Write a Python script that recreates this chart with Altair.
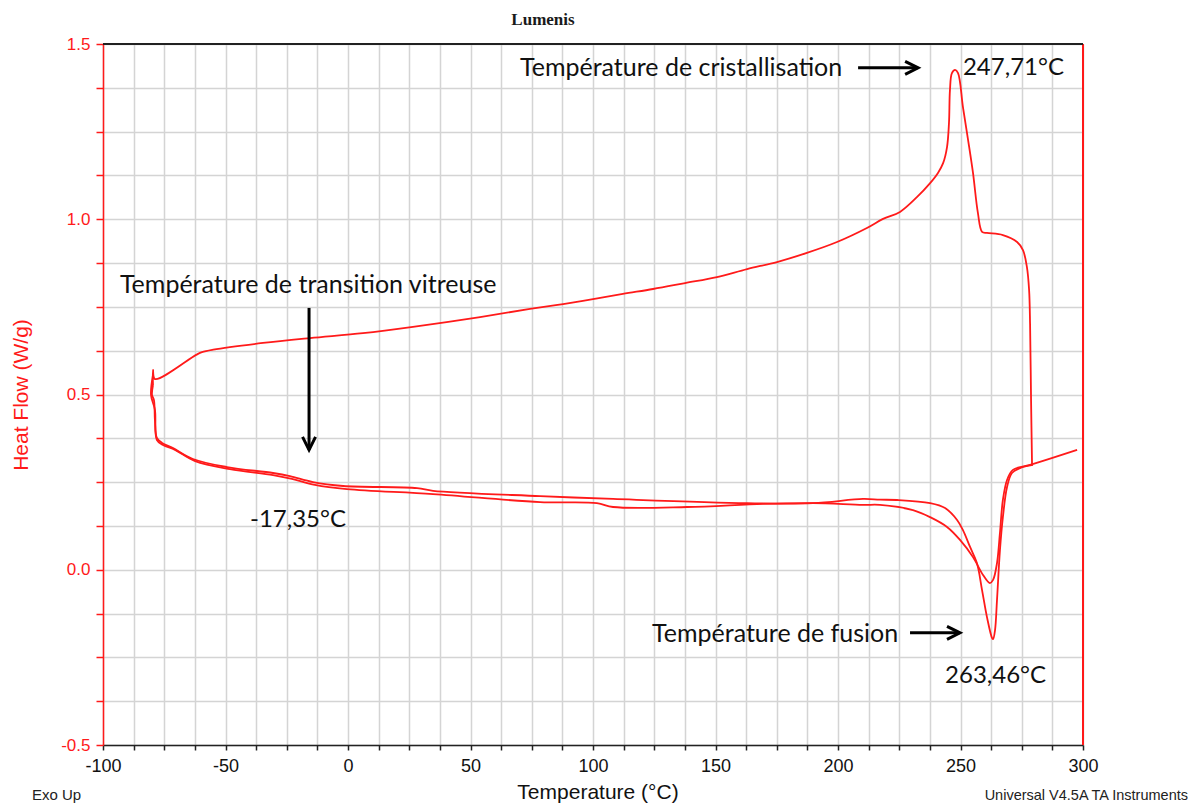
import altair as alt
import pandas as pd

# ---- data ----
# cooling run (from 280 °C down to -80 °C)
cool_T = [279.2, 278.8, 278.4, 278.0, 277.1, 275.5, 273.1, 267.3, 260.8, 258.8, 257.1, 255.1,
          253.1, 251.0, 249.0, 247.8, 246.5, 245.7, 245.3, 244.5, 242.9, 240.8, 237.6, 232.2,
          225.3, 218.4, 211.8, 199.6, 187.3, 175.1, 162.9, 150.6, 137.6, 124.5, 112.2, 100.0,
          87.8, 74.3, 53.9, 26.5, 6.1, -15.5, -34.7, -55.0, -59.6, -62.0, -78.8, -79.6, -79.6]
cool_H = [0.299, 0.484, 0.700, 0.798, 0.864, 0.912, 0.935, 0.955, 0.961, 0.964, 1.018, 1.132,
          1.226, 1.320, 1.417, 1.426, 1.417, 1.369, 1.275, 1.206, 1.160, 1.132, 1.103, 1.063,
          1.021, 1.001, 0.975, 0.935, 0.904, 0.878, 0.858, 0.835, 0.818, 0.801, 0.787, 0.772,
          0.758, 0.744, 0.721, 0.693, 0.675, 0.661, 0.647, 0.628, 0.621, 0.613, 0.544, 0.570, 0.527]

# first heating (deep melting peak)
heat1_T = [-79.6, -80.0, -79.2, -78.8, -78.0, -75.9, -71.4, -63.3, -49.4, -30.6, -23.7, -14.3,
           -2.0, 28.2, 34.7, 78.4, 108.2, 162.9, 189.8, 210.2, 217.1, 224.1, 237.6, 243.7,
           248.6, 251.0, 253.9, 256.7, 258.8, 260.8, 262.9, 263.3, 264.1, 264.9, 266.1, 267.3,
           269.0, 271.0, 274.3, 279.6]
heat1_H = [0.527, 0.499, 0.484, 0.427, 0.376, 0.362, 0.347, 0.316, 0.293, 0.276, 0.267, 0.250,
           0.239, 0.233, 0.225, 0.210, 0.202, 0.190, 0.190, 0.202, 0.200, 0.199, 0.190, 0.176,
           0.142, 0.113, 0.065, 0.019, -0.058, -0.135, -0.195, -0.198, -0.172, -0.086, 0.056, 0.150,
           0.236, 0.276, 0.290, 0.299]

# second heating (shallow melting peak)
heat2_T = [-79.6, -80.4, -78.8, -78.0, -75.5, -70.6, -62.4, -48.2, -30.6, -22.9, -13.5, -0.4,
           34.7, 78.4, 101.6, 108.2, 138.4, 169.4, 189.8, 210.2, 217.1, 230.6, 237.6, 244.5,
           249.8, 255.1, 259.2, 262.0, 263.3, 264.9, 266.1, 267.3, 269.0, 271.4, 278.4, 297.6]
heat2_H = [0.556, 0.499, 0.456, 0.370, 0.356, 0.342, 0.310, 0.287, 0.270, 0.259, 0.242, 0.230,
           0.216, 0.193, 0.190, 0.179, 0.179, 0.188, 0.190, 0.185, 0.185, 0.170, 0.150, 0.122,
           0.085, 0.036, -0.015, -0.038, -0.029, 0.019, 0.105, 0.199, 0.256, 0.285, 0.299, 0.342]

# annotation texts (data coordinates, left aligned)
ann_text = ["Température de cristallisation", "247,71°C", "Température de transition vitreuse",
            "-17,35°C", "Température de fusion", "263,46°C"]
ann_T = [70.2, 251.0, -93.1, -40.0, 124.1, 243.7]
ann_H = [1.432, 1.432, 0.812, 0.142, -0.183, -0.303]
ann_size = [25, 24, 25, 24, 25, 24]

# arrows (tail -> head)
arr_T1 = [208.2, -15.9, 229.4]
arr_H1 = [1.432, 0.747, -0.180]
arr_T2 = [232.7, -15.9, 249.8]
arr_H2 = [1.432, 0.342, -0.180]
arr_angle = [0, 90, 0]

x_ticks = [-100 + 12.5 * k for k in range(33)]
y_ticks = [-0.5 + 0.125 * k for k in range(17)]

# ---- tables ----
rows = []
for name, Ts, Hs in [("heat1", heat1_T, heat1_H), ("cool", cool_T, cool_H), ("heat2", heat2_T, heat2_H)]:
    for i, (t, h) in enumerate(zip(Ts, Hs)):
        rows.append({"series": name, "i": i, "T": t, "H": h})
df = pd.DataFrame(rows)
ann = pd.DataFrame({"text": ann_text, "T": ann_T, "H": ann_H, "size": ann_size})
arr = pd.DataFrame({"T1": arr_T1, "H1": arr_H1, "T2": arr_T2, "H2": arr_H2, "ang": arr_angle})

W, Hh = 980, 701
RED = "#ff1a1a"
xs = alt.Scale(domain=[-100, 300], nice=False, zero=False)
ys = alt.Scale(domain=[-0.5, 1.5], nice=False, zero=False)

x_axis = alt.Axis(values=x_ticks, tickCount=60,
                  labelExpr="datum.value % 50 == 0 ? '' + datum.value : ''",
                  title=None, grid=True, gridColor="#d4d4d4", gridWidth=1.5,
                  domainColor="#222222", domainWidth=1.5, tickColor="#222222", tickSize=5,
                  tickWidth=1.5, labelFont="Liberation Sans", labelFontSize=18, labelColor="#111111",
                  labelPadding=7, labelFlush=False, labelOverlap=False)
y_axis = alt.Axis(values=y_ticks, tickCount=40,
                  labelExpr="abs(datum.value*2 - round(datum.value*2)) < 0.000001 ? (datum.value < 0 ? '-' : '') + format(abs(datum.value), '.1f') : ''",
                  title=None, grid=True, gridColor="#d4d4d4", gridWidth=1.5,
                  domainColor=RED, domainWidth=1.5, tickColor=RED, tickSize=7, tickWidth=1.5,
                  labelFont="Liberation Sans", labelFontSize=17, labelColor=RED,
                  labelPadding=6, labelFlush=False, labelOverlap=False)

lines = alt.Chart(df).mark_line(color=RED, strokeWidth=1.8, interpolate="catmull-rom").encode(
    x=alt.X("T:Q", scale=xs, axis=x_axis),
    y=alt.Y("H:Q", scale=ys, axis=y_axis),
    detail="series:N",
    order="i:Q",
)

right_border = alt.Chart(df).mark_rule(color=RED, strokeWidth=1.5).encode(
    x=alt.value(W), y=alt.value(0), y2=alt.value(Hh)
)
top_border = alt.Chart(df).mark_rule(color="#222222", strokeWidth=1.5).encode(
    x=alt.value(0), x2=alt.value(W), y=alt.value(0)
)

ann_text_layer = alt.Chart(ann).mark_text(align="left", baseline="middle", font="Lato",
                                          color="#111111").encode(
    x=alt.X("T:Q", scale=xs, axis=x_axis), y=alt.Y("H:Q", scale=ys, axis=y_axis), text="text:N",
    size=alt.Size("size:Q", scale=None)
)
arrow_shaft = alt.Chart(arr).mark_rule(color="black", strokeWidth=3).encode(
    x=alt.X("T1:Q", scale=xs, axis=x_axis), x2="T2:Q",
    y=alt.Y("H1:Q", scale=ys, axis=y_axis), y2="H2:Q"
)
arrow_head = alt.Chart(arr).mark_point(shape="M-1,-0.5L0,0L-1,0.5", filled=False, color="black",
                                       strokeWidth=3, size=676, opacity=1).encode(
    x=alt.X("T2:Q", scale=xs, axis=x_axis), y=alt.Y("H2:Q", scale=ys, axis=y_axis),
    angle=alt.Angle("ang:Q", scale=None)
)

def label(txt, x, y, **kw):
    return alt.Chart(pd.DataFrame({"t": [txt]})).mark_text(**kw).encode(
        x=alt.value(x), y=alt.value(y), text="t:N")

title = label("Lumenis", 440, -24, font="Liberation Serif", fontWeight="bold", fontSize=17,
              color="#1a1a1a", align="center", baseline="middle")
exo = label("Exo Up", -71, 756, font="Liberation Sans", fontSize=15, color="#222222",
            align="left", baseline="alphabetic")
univ = label("Universal V4.5A TA Instruments", 1085, 756, font="Liberation Sans", fontSize=14.5,
             color="#222222", align="right", baseline="alphabetic")
xtitle = label("Temperature (°C)", 495, 755, font="Liberation Sans", fontSize=21, color="#111111",
               align="center", baseline="alphabetic")
ytitle = label("Heat Flow (W/g)", -81, 351, font="Liberation Sans", fontSize=21, color=RED,
               align="center", baseline="middle", angle=270)

chart = alt.layer(
    lines, right_border, top_border, ann_text_layer, arrow_shaft, arrow_head,
    title, exo, univ, xtitle, ytitle
).properties(
    width=W, height=Hh,
    autosize=alt.AutoSizeParams(type="none"),
    padding={"left": 95, "top": 36, "right": 105, "bottom": 58},
).configure_view(stroke=None).configure(background="white")

chart.save("out.html", embed_options={"renderer": "svg", "actions": False})
